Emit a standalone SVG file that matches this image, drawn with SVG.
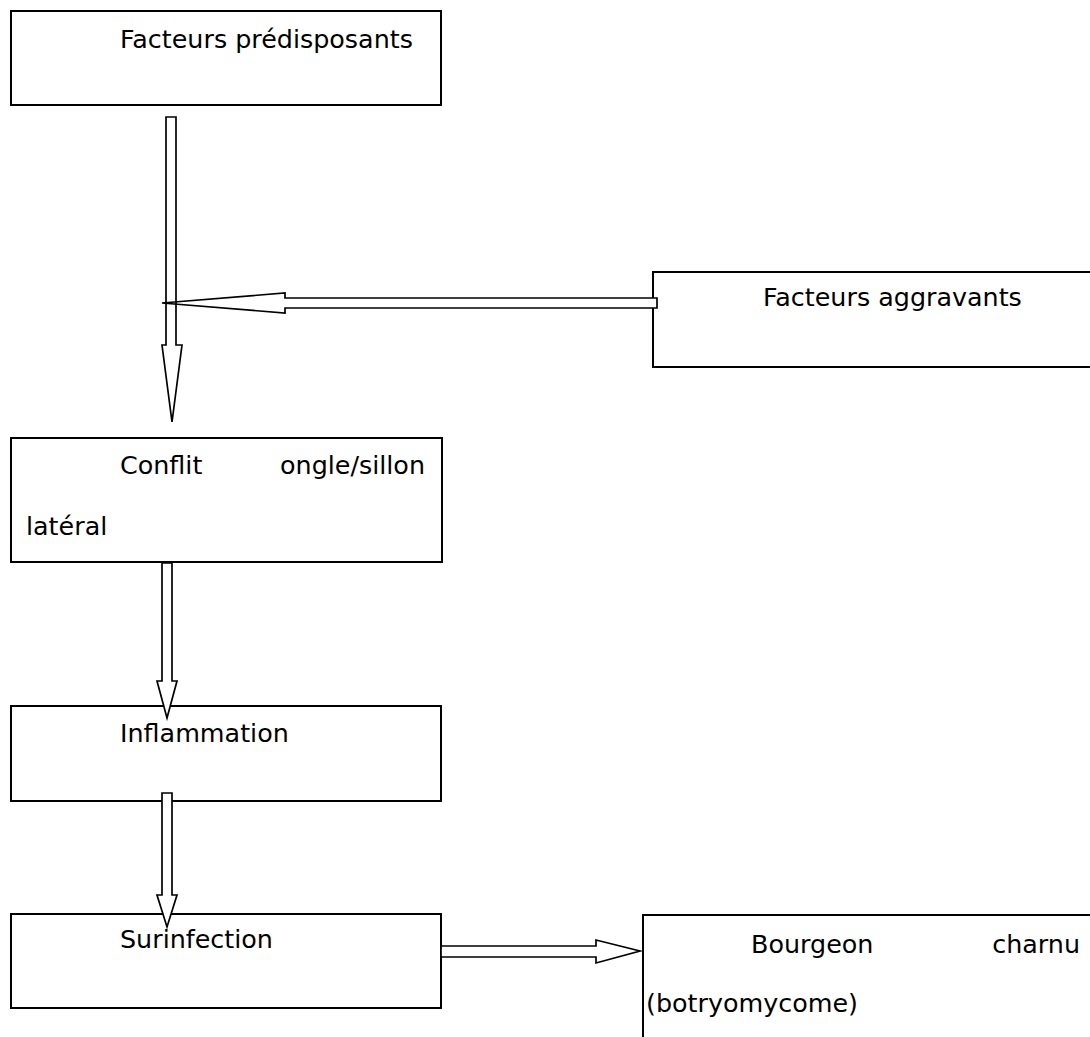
<svg xmlns="http://www.w3.org/2000/svg" width="1090" height="1037" viewBox="0 0 1090 1037">
<style>
.box{fill:#fff;stroke:#000;stroke-width:2}
.arr{fill:#fff;stroke:#000;stroke-width:1.7;stroke-linejoin:miter}
.arr.open{fill:none}
text{font-family:"DejaVu Sans","Verdana",sans-serif;font-size:25.4px;fill:#000}
</style>
<rect width="1090" height="1037" fill="#fff"/>
<g id="n1"><rect class="box" x="11" y="11" width="430" height="94"/><text x="120" y="48">Facteurs prédisposants</text></g>
<g id="n2"><rect class="box" x="653" y="272" width="450" height="95"/><text x="763" y="306">Facteurs aggravants</text></g>
<g id="n3"><rect class="box" x="11" y="438" width="431" height="124"/><text x="120" y="474">Conflit</text><text x="425" y="474" text-anchor="end">ongle/sillon</text><text x="26" y="535">latéral</text></g>
<g id="n4"><rect class="box" x="11" y="706" width="430" height="95"/><text x="120" y="742">Inflammation</text></g>
<g id="n5"><rect class="box" x="11" y="914" width="430" height="94"/><text x="120" y="948">Surinfection</text></g>
<g id="n6"><rect class="box" x="643" y="915" width="460" height="140"/><text x="751" y="953">Bourgeon</text><text x="1080" y="953" text-anchor="end">charnu</text><text x="646" y="1012">(botryomycome)</text></g>
<g id="connectors">
<path class="arr" d="M657,298 V308 H285 V313 L162,303 L285,293 V298 Z"/>
<path class="arr open" d="M166,117 H176 V345 H182 L172,422 L162,345 H166 Z"/>
<path class="arr" d="M162,563 H172 V681 H177 L167,718 L157,681 H162 Z"/>
<path class="arr" d="M162,793 H172 V895 H177 L167,927 L157,895 H162 Z"/>
<path class="arr" d="M441,946 H596 V940 L640,951 L596,963 V957 H441 Z"/>
</g>
</svg>
